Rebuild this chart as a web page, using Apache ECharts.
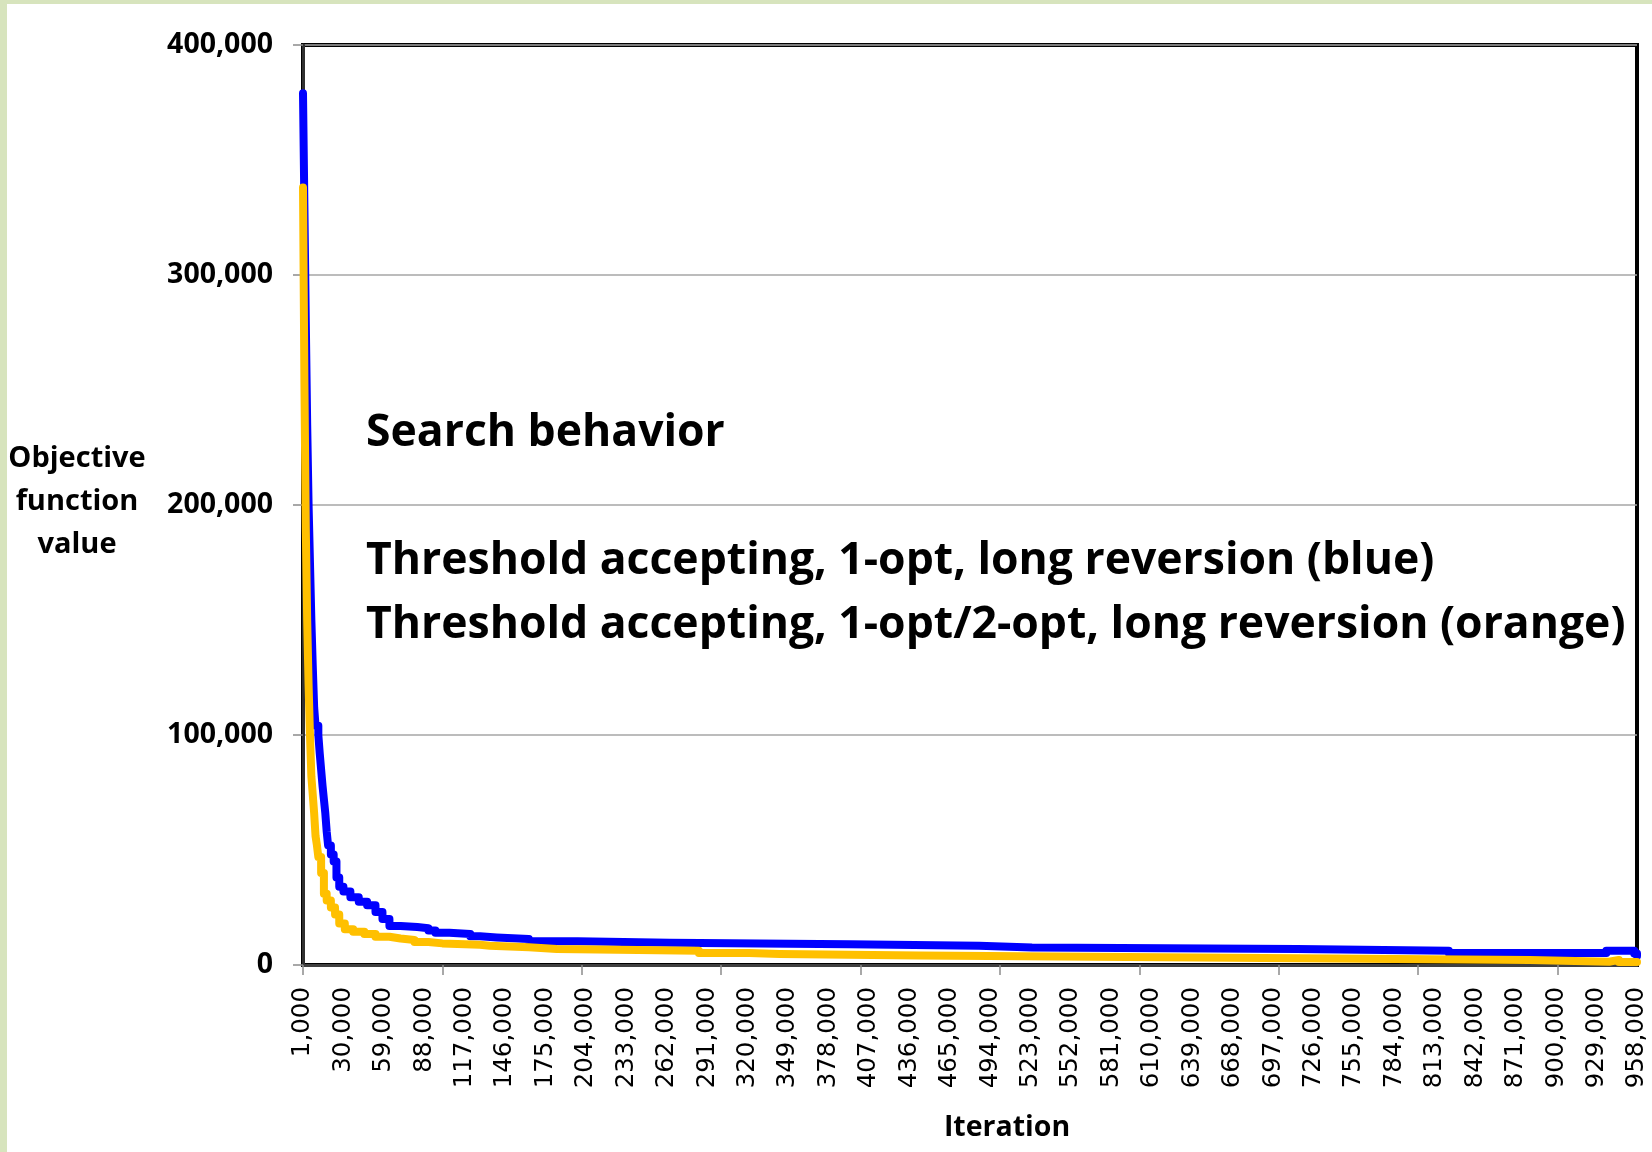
<!DOCTYPE html>
<html>
<head>
<meta charset="utf-8">
<script src="https://cdn.jsdelivr.net/npm/echarts@6/dist/echarts.min.js"></script>
<style>
html,body{margin:0;padding:0;background:#fff;}
#chart{width:1652px;height:1152px;}
</style>
</head>
<body>
<div id="chart"></div>
<script>
// Categories: iterations 1,000 .. 958,000 (step 1,000)
const iterationStep = 1000;
const iterationCount = 958;
const iterations = Array.from({length: iterationCount}, (_, i) => (i + 1) * iterationStep);

// Y axis ticks
const yTicks = [0, 100000, 200000, 300000, 400000];

// Blue series: breakpoints (category index, value) - value holds until next breakpoint
const blueIdx = [0, 1, 2, 3, 4, 5, 6, 7, 8, 9, 11, 12, 13, 14, 15, 16, 17, 18, 20, 22, 24, 26, 29, 34, 40, 46, 52, 57, 62, 70, 82, 90, 95, 105, 120, 127, 139, 162, 197, 263, 392, 485, 523, 713, 822, 935, 952, 955, 957];
const blueVal = [379000, 330000, 280000, 235000, 200000, 175000, 150000, 130000, 112000, 104000, 100000, 92000, 85000, 78000, 72000, 66000, 58000, 52000, 48000, 45000, 38000, 34000, 32000, 29500, 27500, 26000, 23000, 20000, 17000, 16500, 16000, 15000, 14000, 13500, 12500, 12000, 11300, 10300, 9700, 9000, 8400, 7600, 7000, 6200, 5200, 6200, 6200, 5000, 3900];

// Orange series breakpoints
const orangeIdx = [0, 1, 2, 3, 4, 5, 6, 7, 8, 9, 10, 11, 13, 15, 17, 20, 23, 26, 30, 36, 44, 52, 62, 70, 80, 90, 100, 127, 134, 162, 182, 284, 320, 342, 442, 641, 784, 880, 937, 944, 957];
const orangeVal = [338000, 254000, 190000, 150000, 122000, 100000, 82000, 74000, 66000, 56000, 52000, 47000, 40000, 31000, 28000, 25000, 22000, 18000, 15500, 14500, 13500, 12300, 11500, 10900, 10000, 9400, 8800, 8400, 7700, 7000, 6200, 5200, 4800, 4100, 3300, 2600, 2200, 1400, 2200, 1300, 1300];

const fmt = v => Number(v).toLocaleString('en-US');
const toPairs = (idx, val) => idx.map((x, i) => [x, val[i]]);

const chart = echarts.init(document.getElementById('chart'), null, {renderer: 'canvas'});
const green = '#d7e4bd';

chart.setOption({
  animation: false,
  backgroundColor: '#ffffff',
  grid: {
    left: 303, top: 45, right: 15, bottom: 187,
    show: true, borderColor: '#000000', borderWidth: 4, backgroundColor: 'transparent',
    containLabel: false
  },
  xAxis: {
    type: 'category',
    data: iterations.map(fmt),
    boundaryGap: false,
    axisLine: {show: true, onZero: false, lineStyle: {color: '#404040', width: 3}},
    axisTick: {show: true, interval: 99, length: 10, lineStyle: {color: '#8c8c8c', width: 1.5}},
    axisLabel: {
      interval: 28, rotate: 90, margin: 22, color: '#000',
      fontFamily: 'DejaVu Sans', fontSize: 24.5, hideOverlap: false
    },
    splitLine: {show: false}
  },
  yAxis: {
    type: 'value',
    min: yTicks[0], max: yTicks[yTicks.length - 1], interval: 100000,
    axisLine: {show: true, lineStyle: {color: '#303030', width: 3}},
    axisTick: {show: true, length: 10, lineStyle: {color: '#8c8c8c', width: 1.5}},
    axisLabel: {
      margin: 30, color: '#000', fontFamily: 'Open Sans', fontWeight: 'bold', fontSize: 28.5,
      formatter: v => fmt(v)
    },
    splitLine: {show: true, lineStyle: {color: '#a6a6a6', width: 1.5}}
  },
  series: [
    {
      name: 'blue', type: 'line', step: 'end', showSymbol: false, symbol: 'none',
      data: toPairs(blueIdx, blueVal),
      lineStyle: {color: '#0000ff', width: 8, cap: 'round', join: 'round'},
      z: 3
    },
    {
      name: 'orange', type: 'line', step: 'end', showSymbol: false, symbol: 'none',
      data: toPairs(orangeIdx, orangeVal),
      lineStyle: {color: '#ffc000', width: 8, cap: 'round', join: 'round'},
      z: 4
    }
  ],
  graphic: [
    {type: 'rect', left: 0, top: 0, shape: {width: 7, height: 1152}, style: {fill: green}, z: 100},
    {type: 'rect', left: 0, top: 0, shape: {width: 1652, height: 4}, style: {fill: green}, z: 100},
    {type: 'text', x: 77, y: 502, style: {text: 'Objective\nfunction\nvalue', fontFamily: 'Open Sans', fontWeight: 'bold', fontSize: 29, lineHeight: 43, align: 'center', verticalAlign: 'middle', fill: '#000'}},
    {type: 'text', x: 1007, y: 1128, style: {text: 'Iteration', fontFamily: 'Open Sans', fontWeight: 'bold', fontSize: 28.5, align: 'center', verticalAlign: 'middle', fill: '#000'}},
    {type: 'text', x: 366, y: 433, style: {text: 'Search behavior', fontFamily: 'Open Sans', fontWeight: 'bold', fontSize: 44.5, align: 'left', verticalAlign: 'middle', fill: '#000'}},
    {type: 'text', x: 366, y: 561, style: {text: 'Threshold accepting, 1-opt, long reversion (blue)', fontFamily: 'Open Sans', fontWeight: 'bold', fontSize: 44.5, align: 'left', verticalAlign: 'middle', fill: '#000'}},
    {type: 'text', x: 366, y: 625, style: {text: 'Threshold accepting, 1-opt/2-opt, long reversion (orange)', fontFamily: 'Open Sans', fontWeight: 'bold', fontSize: 44.5, align: 'left', verticalAlign: 'middle', fill: '#000'}}
  ]
});
</script>
</body>
</html>
